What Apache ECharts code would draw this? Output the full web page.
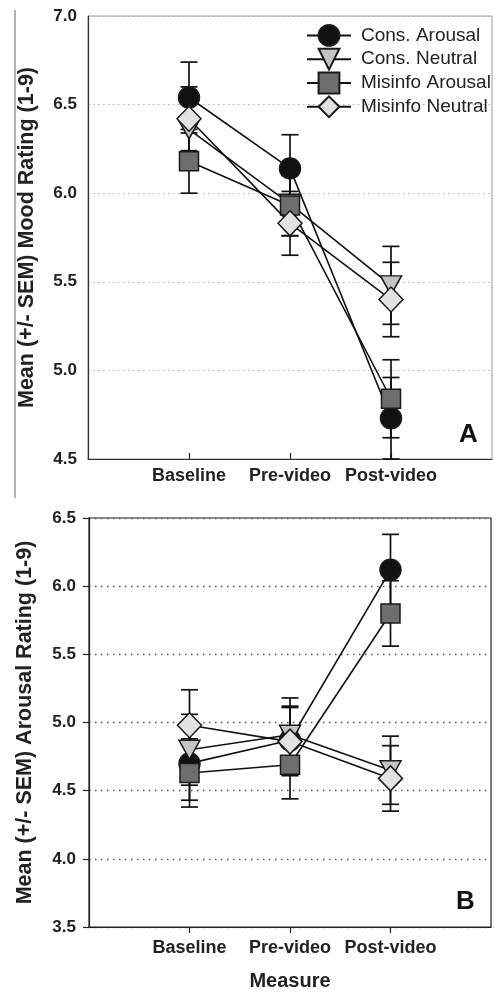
<!DOCTYPE html>
<html>
<head>
<meta charset="utf-8">
<script src="https://cdn.jsdelivr.net/npm/echarts@6/dist/echarts.min.js"></script>
<style>
html,body{margin:0;padding:0;background:#fff;}
#c{width:497px;height:992px;}
</style>
</head>
<body>
<div id="c"></div>
<script>
// ---- data ----
var categories = ['Baseline', 'Pre-video', 'Post-video'];
var seriesNames = ['Cons. Arousal', 'Cons. Neutral', 'Misinfo Arousal', 'Misinfo Neutral'];

// Panel A: Mood rating
var moodConsArousal = [6.54, 6.14, 4.73];
var moodConsNeutral = [6.36, 5.94, 5.48];
var moodMisArousal  = [6.18, 5.93, 4.84];
var moodMisNeutral  = [6.42, 5.83, 5.40];
var moodConsArousalSem = [0.20, 0.19, 0.23];
var moodConsNeutralSem = [0.19, 0.18, 0.22];
var moodMisArousalSem  = [0.18, 0.17, 0.22];
var moodMisNeutralSem  = [0.18, 0.18, 0.21];

// Panel B: Arousal rating
var arConsArousal = [4.70, 4.87, 6.12];
var arConsNeutral = [4.80, 4.91, 4.65];
var arMisArousal  = [4.63, 4.69, 5.80];
var arMisNeutral  = [4.98, 4.86, 4.59];
var arConsArousalSem = [0.27, 0.25, 0.26];
var arConsNeutralSem = [0.26, 0.27, 0.25];
var arMisArousalSem  = [0.25, 0.25, 0.24];
var arMisNeutralSem  = [0.26, 0.25, 0.24];

var moodTicks = [4.5, 5.0, 5.5, 6.0, 6.5, 7.0];
var arousalTicks = [3.5, 4.0, 4.5, 5.0, 5.5, 6.0, 6.5];

// ---- styles ----
var FONT = 'Liberation Sans, Arial, Helvetica, sans-serif';
var markerStyles = [
  {symbol: 'circle', size: 21, rotate: 0, fill: '#111111'},
  {symbol: 'triangle', size: [21, 19], rotate: 180, fill: '#c4c4c4'},
  {symbol: 'rect', size: 19, rotate: 0, fill: '#6e6e6e'},
  {symbol: 'diamond', size: [24, 25], rotate: 0, fill: '#e2e2e2'}
];

var moodData = [moodConsArousal, moodConsNeutral, moodMisArousal, moodMisNeutral];
var moodSem = [moodConsArousalSem, moodConsNeutralSem, moodMisArousalSem, moodMisNeutralSem];
var arData = [arConsArousal, arConsNeutral, arMisArousal, arMisNeutral];
var arSem = [arConsArousalSem, arConsNeutralSem, arMisArousalSem, arMisNeutralSem];

function pts(vals) { return vals.map(function (v, i) { return [i + 1, v]; }); }
function errPts(vals, sem) { return vals.map(function (v, i) { return [i + 1, v, sem[i]]; }); }

function errRender(params, api) {
  var x = api.value(0), y = api.value(1), e = api.value(2);
  var t = api.coord([x, y + e]);
  var b = api.coord([x, y - e]);
  var hw = 8.5;
  var st = {stroke: '#111', lineWidth: 1.7};
  return {type: 'group', children: [
    {type: 'line', shape: {x1: t[0], y1: t[1], x2: b[0], y2: b[1]}, style: st},
    {type: 'line', shape: {x1: t[0] - hw, y1: t[1], x2: t[0] + hw, y2: t[1]}, style: st},
    {type: 'line', shape: {x1: b[0] - hw, y1: b[1], x2: b[0] + hw, y2: b[1]}, style: st}
  ]};
}

var series = [];
function addPanel(dataArr, semArr, gi) {
  dataArr.forEach(function (vals, k) {
    series.push({
      type: 'custom', name: seriesNames[k] + ' SEM', xAxisIndex: gi, yAxisIndex: gi,
      renderItem: errRender, data: errPts(vals, semArr[k]), z: 1, silent: true,
      encode: {x: 0, y: 1}
    });
  });
  dataArr.forEach(function (vals, k) {
    var m = markerStyles[k];
    series.push({
      type: 'line', name: seriesNames[k], xAxisIndex: gi, yAxisIndex: gi,
      data: pts(vals), symbol: m.symbol, symbolSize: m.size, symbolRotate: m.rotate,
      showAllSymbol: true, z: 2 + k,
      lineStyle: {color: '#111', width: 1.6},
      itemStyle: {color: m.fill, borderColor: '#1a1a1a', borderWidth: 1.5, opacity: 1},
      emphasis: {disabled: true}
    });
  });
}
addPanel(moodData, moodSem, 0);
addPanel(arData, arSem, 1);

function xAxisCfg(gi, inside, margin) {
  return {
    type: 'value', gridIndex: gi, min: 0, max: 4, interval: 1,
    axisLine: {show: true, lineStyle: {color: gi === 0 ? '#333' : '#222', width: 1.2}},
    axisTick: {show: true, inside: inside, length: 6, customValues: [1, 2, 3], lineStyle: {color: '#222', width: 1.2}},
    axisLabel: {customValues: [1, 2, 3], margin: margin, fontFamily: FONT, fontWeight: 'bold', fontSize: 18, color: '#222',
      formatter: function (v) { return categories[Math.round(v) - 1] || ''; }},
    splitLine: {show: false}
  };
}

var option = {
  animation: false,
  backgroundColor: '#fff',
  grid: [
    {left: 88, top: 16, width: 404, height: 443, show: true, borderColor: '#9a9a9a', borderWidth: 1},
    {left: 89, top: 518, width: 402, height: 411, show: true, borderColor: '#222', borderWidth: 1.2}
  ],
  legend: {
    left: 301, top: 19, orient: 'vertical', itemWidth: 44, itemHeight: 26, itemGap: 1,
    data: seriesNames, selectedMode: false,
    textStyle: {fontFamily: FONT, fontSize: 19, color: '#222', padding: [0, 0, 0, 5]}
  },
  xAxis: [
    xAxisCfg(0, true, 8),
    (function () { var a = xAxisCfg(1, false, 12);
      a.name = 'Measure'; a.nameLocation = 'middle'; a.nameGap = 44;
      a.nameTextStyle = {fontFamily: FONT, fontWeight: 'bold', fontSize: 20, color: '#222'};
      return a; })()
  ],
  yAxis: [
    {type: 'value', gridIndex: 0, min: moodTicks[0], max: moodTicks[moodTicks.length - 1], interval: 0.5,
     name: 'Mean (+/- SEM) Mood Rating (1-9)', nameLocation: 'middle', nameGap: 50,
     nameTextStyle: {fontFamily: FONT, fontWeight: 'bold', fontSize: 21.5, color: '#222'},
     axisLine: {show: true, lineStyle: {color: '#333', width: 1.2}},
     axisTick: {show: false},
     axisLabel: {margin: 11, fontFamily: FONT, fontWeight: 'bold', fontSize: 17, color: '#222',
       formatter: function (v) { return v.toFixed(1); }},
     splitLine: {show: true, lineStyle: {color: '#b0b0b0', type: [1.5, 3.5], width: 1.2}}},
    {type: 'value', gridIndex: 1, min: arousalTicks[0], max: arousalTicks[arousalTicks.length - 1], interval: 0.5,
     name: 'Mean (+/- SEM) Arousal Rating (1-9)', nameLocation: 'middle', nameGap: 53,
     nameTextStyle: {fontFamily: FONT, fontWeight: 'bold', fontSize: 21.5, color: '#222'},
     axisLine: {show: true, lineStyle: {color: '#222', width: 1.2}},
     axisTick: {show: true, length: 6, lineStyle: {color: '#222', width: 1.2}},
     axisLabel: {margin: 13, fontFamily: FONT, fontWeight: 'bold', fontSize: 17, color: '#222',
       formatter: function (v) { return v.toFixed(1); }},
     splitLine: {show: true, lineStyle: {color: '#555', type: [1.5, 4.5], width: 1.3}}}
  ],
  graphic: [
    {type: 'line', shape: {x1: 15, y1: 10, x2: 15, y2: 498}, style: {stroke: '#666', lineWidth: 1}},
    {type: 'text', left: 459, top: 422, style: {text: 'A', font: 'bold 26px ' + FONT, fill: '#111'}},
    {type: 'text', left: 456, top: 889, style: {text: 'B', font: 'bold 26px ' + FONT, fill: '#111'}}
  ],
  series: series
};

var chart = echarts.init(document.getElementById('c'), null, {renderer: 'canvas'});
chart.setOption(option);
</script>
</body>
</html>
